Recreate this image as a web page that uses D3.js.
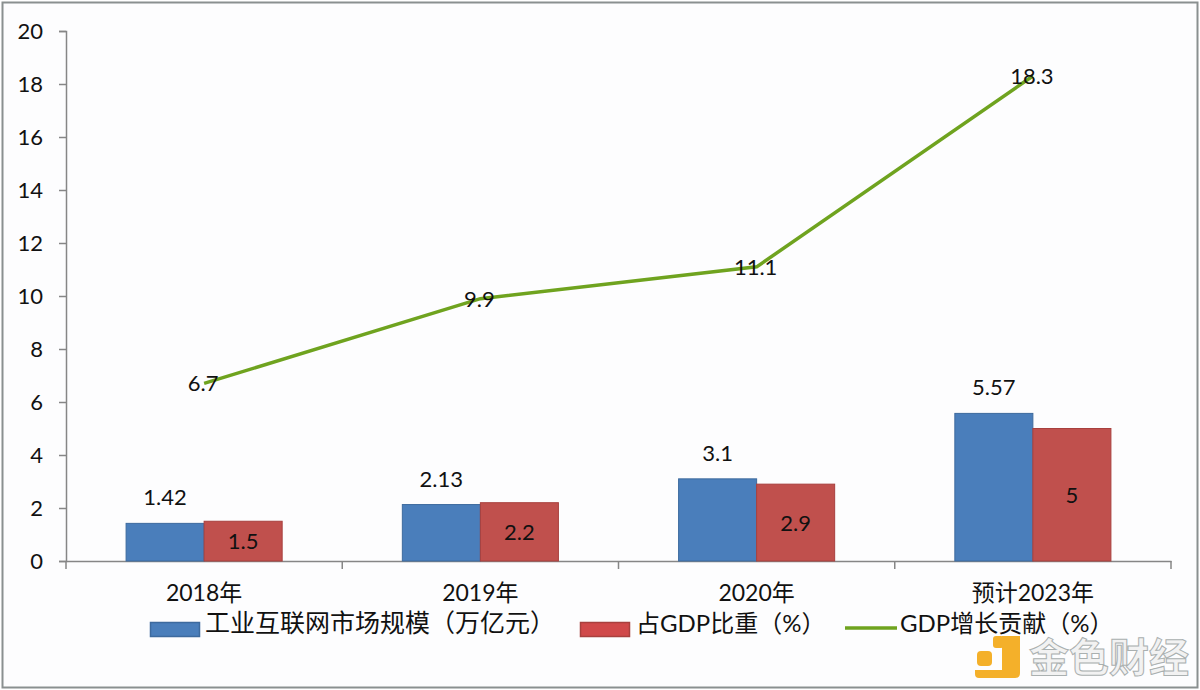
<!DOCTYPE html>
<html>
<head>
<meta charset="utf-8">
<script src="https://d3js.org/d3.v7.min.js"></script>
<style>
html, body { margin: 0; padding: 0; background: #fff; }
text { font-family: Lato, "Noto Sans CJK SC", sans-serif; fill: #111; }
</style>
</head>
<body>
<div id="chart"></div>
<script>
var width = 1200;
var height = 690;

var categories = ["2018年", "2019年", "2020年", "预计2023年"];
var marketSize = [1.42, 2.13, 3.1, 5.57];
var gdpShare = [1.5, 2.2, 2.9, 5];
var gdpGrowth = [6.7, 9.9, 11.1, 18.3];
var yTicks = [0, 2, 4, 6, 8, 10, 12, 14, 16, 18, 20];
var seriesNames = ["工业互联网市场规模（万亿元）", "占GDP比重（%）", "GDP增长贡献（%）"];

var svg = d3.select("#chart").append("svg")
    .attr("width", width)
    .attr("height", height)
    .style("display", "block");

// outer frame of the picture
svg.append("rect")
    .attr("x", 2.5).attr("y", 2.5)
    .attr("width", width - 5).attr("height", height - 5)
    .attr("fill", "#fdfdfe")
    .attr("stroke", "#8a9090")
    .attr("stroke-width", 2);

var x = d3.scaleBand()
    .domain(categories)
    .range([66, 1171]);

var y = d3.scaleLinear()
    .domain([0, 20])
    .range([561, 31]);

var barX = d3.scaleBand()
    .domain(["market", "share"])
    .range([0, x.bandwidth()])
    .paddingInner(0)
    .paddingOuter(0.77);

// axes
var yAxis = svg.append("g")
    .attr("transform", "translate(66,0)")
    .call(d3.axisLeft(y).tickValues(yTicks).tickSize(7).tickPadding(16));

yAxis.selectAll("text").style("font-size", "22px");

var xAxis = svg.append("g")
    .attr("transform", "translate(0,561)")
    .call(d3.axisBottom(x).tickFormat("").tickSize(0));

yAxis.select(".domain").attr("stroke", "#868686").attr("stroke-width", 1.5);
yAxis.selectAll("line").attr("stroke", "#868686").attr("stroke-width", 1.5);
xAxis.select(".domain").attr("stroke", "#868686").attr("stroke-width", 1.5);

// tick marks sit on the category boundaries, not the centres
svg.selectAll(".xtick")
    .data(categories.concat(["end"]))
    .enter()
    .append("line")
    .attr("class", "xtick")
    .attr("x1", (d, i) => x.range()[0] + i * x.step())
    .attr("x2", (d, i) => x.range()[0] + i * x.step())
    .attr("y1", y(0))
    .attr("y2", y(0) + 8)
    .attr("stroke", "#868686")
    .attr("stroke-width", 1.5);

svg.selectAll(".xlabel")
    .data(categories)
    .enter()
    .append("text")
    .attr("class", "xlabel")
    .attr("x", d => x(d) + x.bandwidth() / 2)
    .attr("y", 601)
    .attr("text-anchor", "middle")
    .style("font-size", "23px")
    .text(d => d);

// bars
svg.selectAll(".bar-market")
    .data(marketSize)
    .enter()
    .append("rect")
    .attr("class", "bar-market")
    .attr("x", (d, i) => x(categories[i]) + barX("market"))
    .attr("y", d => y(d))
    .attr("width", barX.bandwidth())
    .attr("height", d => y(0) - y(d))
    .attr("fill", "#4a7ebb")
    .attr("stroke", "#3d6a9e")
    .attr("stroke-width", 1);

svg.selectAll(".bar-share")
    .data(gdpShare)
    .enter()
    .append("rect")
    .attr("class", "bar-share")
    .attr("x", (d, i) => x(categories[i]) + barX("share"))
    .attr("y", d => y(d))
    .attr("width", barX.bandwidth())
    .attr("height", d => y(0) - y(d))
    .attr("fill", "#c0504d")
    .attr("stroke", "#a8403e")
    .attr("stroke-width", 1);

// growth line
var line = d3.line()
    .x((d, i) => x(categories[i]) + x.bandwidth() / 2)
    .y(d => y(d));

svg.append("path")
    .datum(gdpGrowth)
    .attr("d", line)
    .attr("fill", "none")
    .attr("stroke", "#6fa31f")
    .attr("stroke-width", 3.5);

// value labels
svg.selectAll(".label-market")
    .data(marketSize)
    .enter()
    .append("text")
    .attr("class", "label-market")
    .attr("x", (d, i) => x(categories[i]) + barX("market") + barX.bandwidth() / 2)
    .attr("y", d => y(d) - 18)
    .attr("text-anchor", "middle")
    .style("font-size", "22px")
    .text(d => d);

svg.selectAll(".label-share")
    .data(gdpShare)
    .enter()
    .append("text")
    .attr("class", "label-share")
    .attr("x", (d, i) => x(categories[i]) + barX("share") + barX.bandwidth() / 2)
    .attr("y", d => (y(d) + y(0)) / 2 + 8)
    .attr("text-anchor", "middle")
    .style("font-size", "22px")
    .text(d => d);

svg.selectAll(".label-growth")
    .data(gdpGrowth)
    .enter()
    .append("text")
    .attr("class", "label-growth")
    .attr("x", (d, i) => x(categories[i]) + x.bandwidth() / 2 - 1)
    .attr("y", d => y(d) + 8)
    .attr("text-anchor", "middle")
    .style("font-size", "22px")
    .text(d => d);

// legend
var legend = svg.append("g");

legend.append("rect").attr("x", 150.5).attr("y", 622.5).attr("width", 49).attr("height", 14)
    .attr("fill", "#4a7ebb").attr("stroke", "#3d6a9e").attr("stroke-width", 1.5);
legend.append("text").attr("x", 205).attr("y", 632).style("font-size", "25px").text(seriesNames[0]);

legend.append("rect").attr("x", 580.5).attr("y", 622.5).attr("width", 49).attr("height", 14)
    .attr("fill", "#d0494a").attr("stroke", "#a8403e").attr("stroke-width", 1.5);
legend.append("text").attr("x", 636).attr("y", 632).style("font-size", "24px").text(seriesNames[1]);

legend.append("line").attr("x1", 845).attr("x2", 897).attr("y1", 628).attr("y2", 628)
    .attr("stroke", "#6fa31f").attr("stroke-width", 3.5);
legend.append("text").attr("x", 900).attr("y", 632).style("font-size", "24px").text(seriesNames[2]);

// watermark
var mark = svg.append("g");
mark.append("path")
    .attr("d", "M1002 636h18v37q0 5 -5 5h-36q-4 0 -4 -4v-4h27z")
    .attr("fill", "#f4b02a");
mark.append("rect").attr("x", 977).attr("y", 651).attr("width", 15).attr("height", 15).attr("rx", 4).attr("fill", "#f4b02a");
mark.append("rect").attr("x", 993).attr("y", 636).attr("width", 11).attr("height", 12).attr("rx", 3).attr("fill", "#f4b02a");
mark.append("text")
    .attr("x", 1029).attr("y", 672)
    .style("font-size", "40px")
    .style("font-weight", "700")
    .style("fill", "#f2f2f2")
    .style("stroke", "#aab0b0")
    .style("stroke-width", 1)
    .text("金色财经");
</script>
</body>
</html>
